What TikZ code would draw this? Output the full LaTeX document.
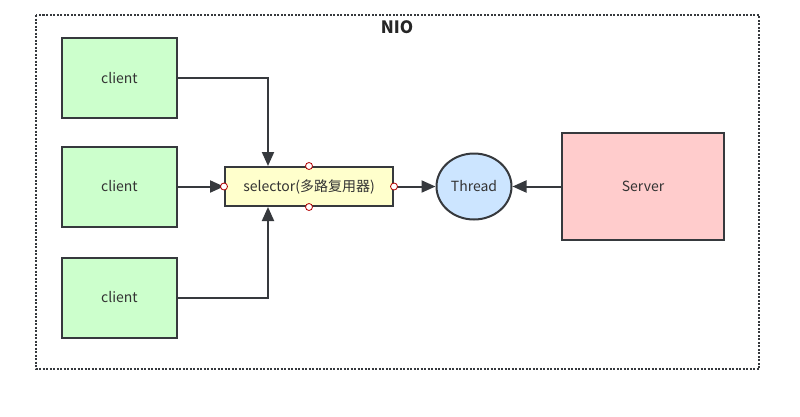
\documentclass[tikz,border=0pt]{standalone}
\usepackage{fontspec}
\setmainfont{Noto Sans CJK SC}
\usetikzlibrary{arrows.meta,shapes.geometric}
\definecolor{edge}{HTML}{36393D}
\definecolor{cgreen}{HTML}{CCFFCC}
\definecolor{cyellow}{HTML}{FFFFCC}
\definecolor{cblue}{HTML}{CCE5FF}
\definecolor{cred}{HTML}{FFCCCC}
\definecolor{mark}{HTML}{B20000}
\tikzset{
  box/.style={draw=edge, line width=2pt, minimum width=#1, inner sep=0pt, font=\fontsize{14}{16}\selectfont, text=black!80},
  clientbox/.style={box=115pt, minimum height=80pt, fill=cgreen},
  conn/.style={draw=edge, line width=2pt, -{Triangle[length=14pt,width=12pt]}},
  pin/.style={circle, draw=mark, fill=white, line width=0.8pt, minimum size=7pt, inner sep=0pt},
}
\begin{document}
\begin{tikzpicture}[x=1pt,y=-1pt]
\useasboundingbox (0,0) rectangle (800,416);
\draw[edge, line width=2pt, dash pattern=on 2pt off 1.5pt] (36,15) rectangle (759,369);
\node[font=\bfseries\fontsize{17}{19}\selectfont, text=black!85] (title) at (397,27) {NIO};
\node[clientbox] (c1) at (119.5,78) {client};
\node[clientbox] (c2) at (119.5,186.5) {client};
\node[clientbox] (c3) at (119.5,297.5) {client};
\node[box=168pt, minimum height=39pt, fill=cyellow] (sel) at (309,186.5) {selector(多路复用器)};
\node[ellipse, draw=edge, line width=2pt, fill=cblue, minimum width=75pt, minimum height=66pt, inner sep=0pt, font=\fontsize{14}{16}\selectfont, text=black!80] (th) at (474,186.5) {Thread};
\node[box=162pt, minimum height=107pt, fill=cred] (srv) at (643,186.5) {Server};
\draw[conn] (c1.east) -| (sel.north -| 268,0);
\draw[conn] (c3.east) -| (sel.south -| 268,0);
\draw[conn] (c2.east) -- (sel.west);
\draw[conn] (sel.east) -- (th.west);
\draw[conn] (srv.west) -- (th.east);
\node[pin] (p1) at (sel.north) {};
\node[pin] (p2) at (sel.south) {};
\node[pin] (p3) at (sel.west) {};
\node[pin] (p4) at (sel.east) {};
\end{tikzpicture}
\end{document}
